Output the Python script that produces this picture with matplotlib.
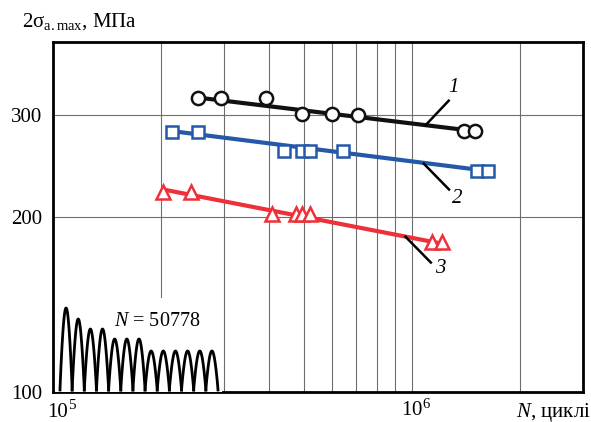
import numpy as np
import matplotlib
matplotlib.use("Agg")
import matplotlib.pyplot as plt

plt.rcParams['font.family'] = ['Liberation Serif', 'DejaVu Serif']
plt.rcParams['mathtext.fontset'] = 'custom'
plt.rcParams['mathtext.rm'] = 'Liberation Serif'
plt.rcParams['mathtext.it'] = 'Liberation Serif:italic'

# Series 1 (circles)
n1 = [2.53e5, 2.93e5, 3.93e5, 4.94e5, 6.0e5, 7.07e5, 1.40e6, 1.50e6]
s1 = [320, 320, 321, 301, 301, 300, 281, 281]
fit1_n = [2.53e5, 1.50e6]
fit1_s = [321, 281]

# Series 2 (squares)
n2 = [2.15e5, 2.53e5, 4.41e5, 4.94e5, 5.21e5, 6.43e5, 1.52e6, 1.63e6]
s2 = [280, 280, 260, 260, 260, 260, 240, 240]
fit2_n = [2.15e5, 1.63e6]
fit2_s = [281, 240]

# Series 3 (triangles)
n3 = [2.03e5, 2.43e5, 4.08e5, 4.76e5, 4.94e5, 5.21e5, 1.137e6, 1.21e6]
s3 = [221, 221, 202, 202, 202, 202, 181, 181]
fit3_n = [2.03e5, 1.21e6]
fit3_s = [223, 180]

# curve labels: leader start, leader end, text position
labels = ['1', '2', '3']
lead_start = [(1.094e6, 288), (1.08e6, 247), (9.6e5, 185)]
lead_end = [(1.267e6, 317), (1.27e6, 223), (1.13e6, 167)]
label_pos = [(1.31e6, 334), (1.34e6, 215), (1.2e6, 163)]

# loading cycle peaks for the inset sketch
wave_peaks = [82, 71, 61, 61, 51, 51, 51, 39, 39, 39, 39, 39, 39]

W, H = 591, 422
fig = plt.figure(figsize=(W / 100, H / 100), dpi=100)
ax = fig.add_axes([53 / W, 1 - 392 / H, 530 / W, 350 / H])

ax.set_xscale('log')
ax.set_yscale('log')
ax.set_xlim(1e5, 3e6)
ax.set_ylim(100, 400)

# grid
grid_x = [2e5, 3e5, 4e5, 5e5, 6e5, 7e5, 8e5, 9e5, 1e6, 2e6]
for gx in grid_x:
    ax.axvline(gx, color='#6e6e6e', lw=0.8, zorder=1)
for gy in [200, 300]:
    ax.axhline(gy, color='#6e6e6e', lw=0.8, zorder=1)

black = '#111111'
blue = '#2458a8'
red = '#ee3038'

ax.plot(fit1_n, fit1_s, color=black, lw=3, zorder=3, solid_capstyle='butt')
ax.plot(n1, s1, 'o', ms=9.5, mfc='white', mec=black, mew=1.8, zorder=4)
ax.plot(fit2_n, fit2_s, color=blue, lw=3, zorder=3, solid_capstyle='butt')
ax.plot(n2, s2, 's', ms=8.5, mfc='white', mec=blue, mew=1.8, zorder=4)
ax.plot(fit3_n, fit3_s, color=red, lw=3, zorder=3, solid_capstyle='butt')
ax.plot(n3, s3, '^', ms=9.5, mfc='white', mec=red, mew=1.8, zorder=4)

for lab, a, b, p in zip(labels, lead_start, lead_end, label_pos):
    ax.plot([a[0], b[0]], [a[1], b[1]], color='black', lw=1.8, zorder=5)
    ax.text(p[0], p[1], lab, fontsize=15, style='italic', ha='center', va='center')

# ticks
ax.minorticks_off()
ax.set_yticks([100, 200, 300])
ax.set_yticklabels(['100', '200', '300'])
ax.set_xticks([])
ax.tick_params(length=0, labelsize=15, pad=8)

for sp in ax.spines.values():
    sp.set_linewidth(2)
    sp.set_zorder(10)

fig.text(47 / W, 1 - 417 / H, '10', fontsize=15, ha='left', va='baseline')
fig.text(68 / W, 1 - 409 / H, '5', fontsize=11, ha='left', va='baseline')
fig.text(401 / W, 1 - 416 / H, r'10$^{6}$', fontsize=15, ha='left', va='baseline')
fig.text(22 / W, 1 - 22 / H, r'2σ$_{\mathrm{a.max}}$, МПа', fontsize=15, ha='left', va='center')
fig.text(516 / W, 1 - 412 / H, r'$\mathit{N}$, циклі', fontsize=15, ha='left', va='center')

# inset: loading cycles sketch
ins = fig.add_axes([55 / W, 1 - 392 / H, 167 / W, 94 / H])
ins.set_xlim(-5 / 12.15, 13 + 4 / 12.15)
ins.set_ylim(0, 94)
t = np.linspace(0, 1, 60)
for i, h in enumerate(wave_peaks):
    ins.plot(i + t, 2 + h * np.sin(np.pi * t) ** 0.9, color='black', lw=2)
ins.set_xticks([])
ins.set_yticks([])
for sp in ins.spines.values():
    sp.set_visible(False)
ins.set_facecolor('white')
ins.set_zorder(2)
ins.text(8.0, 70, r'$\mathit{N}$ = 50778', fontsize=14.5, ha='center', va='center')

fig.savefig('out.png', dpi=100)
